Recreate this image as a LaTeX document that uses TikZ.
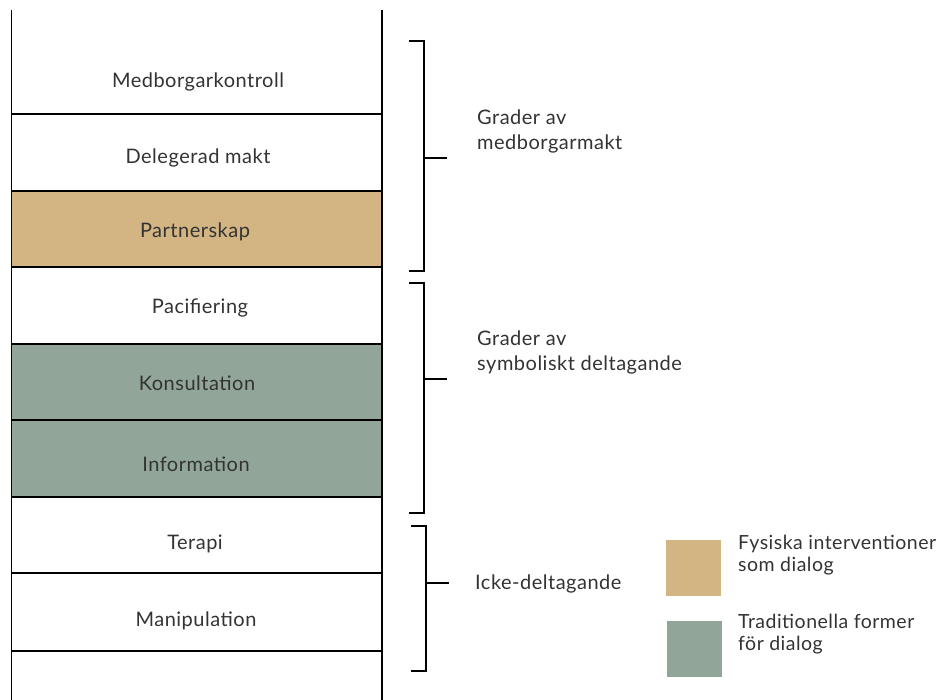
\documentclass[tikz,border=0pt]{standalone}
\usepackage{fontspec}
\setmainfont{Lato}[LetterSpace=2.5]
\definecolor{tanc}{HTML}{D2B583}
\definecolor{greenc}{HTML}{91A698}
\definecolor{txt}{HTML}{333333}
\tikzset{
  rail/.style={line width=1.8pt, black},
  lbl/.style={font=\fontsize{20}{25}\selectfont, text=txt, inner sep=0pt, anchor=base},
  side/.style={font=\fontsize{20}{25}\selectfont, text=txt, inner sep=0pt, anchor=base west, align=left},
  legtxt/.style={font=\fontsize{19.5}{22}\selectfont, text=txt, inner sep=0pt, anchor=base west, align=left},
  brk/.style={line width=1.8pt, black},
}
\begin{document}
\begin{tikzpicture}[x=1pt,y=-1pt]
\useasboundingbox (0,0) rectangle (941,700);
% fills
\fill[tanc] (11.5,191) rectangle (382,267);
\fill[greenc] (11.5,344) rectangle (382,497);
% rails
\coordinate (lt) at (11.5,10); \coordinate (lb) at (11.5,700);
\coordinate (rt) at (382,10);  \coordinate (rb) at (382,700);
\draw[rail] (lt) -- (lb);
\draw[rail] (rt) -- (rb);
\foreach \y in {114,191,267,344,420,497,573,651}{
  \draw[rail] (11.5,\y) -- (382,\y);
}
% row labels
\node[lbl] (r1) at (198,87.3) {Medborgarkontroll};
\node[lbl] (r2) at (198,164) {Delegerad makt};
\node[lbl] (r3) at (195,237.3) {Partnerskap};
\node[lbl] (r4) at (200,313) {Pacifiering};
\node[lbl] (r5) at (197,390) {Konsultation};
\node[lbl] (r6) at (196,471.7) {Information};
\node[lbl] (r7) at (195,549.3) {Terapi};
\node[lbl] (r8) at (196,626.7) {Manipulation};
% brackets
\draw[brk] (409,41) -- (424,41) -- (424,271) -- (409,271);
\draw[brk] (424,158) -- (447,158);
\draw[brk] (409,283) -- (424,283) -- (424,513) -- (409,513);
\draw[brk] (424,379) -- (447,379);
\draw[brk] (411,526) -- (426,526) -- (426,671) -- (411,671);
\draw[brk] (426,583) -- (449,583);
% side labels
\node[side] (g1) at (477,150) {Grader av\\medborgarmakt};
\node[side] (g2) at (477,370) {Grader av\\symboliskt deltagande};
\node[side] (g3) at (475,589) {Icke-deltagande};
% legend
\fill[tanc] (666,540) rectangle (721,596);
\fill[greenc] (667,621) rectangle (722,677);
\node[legtxt] (l1) at (738,571.7) {Fysiska interventioner\\som dialog};
\node[legtxt] (l2) at (738,650.7) {Traditionella former\\för dialog};
\end{tikzpicture}
\end{document}
